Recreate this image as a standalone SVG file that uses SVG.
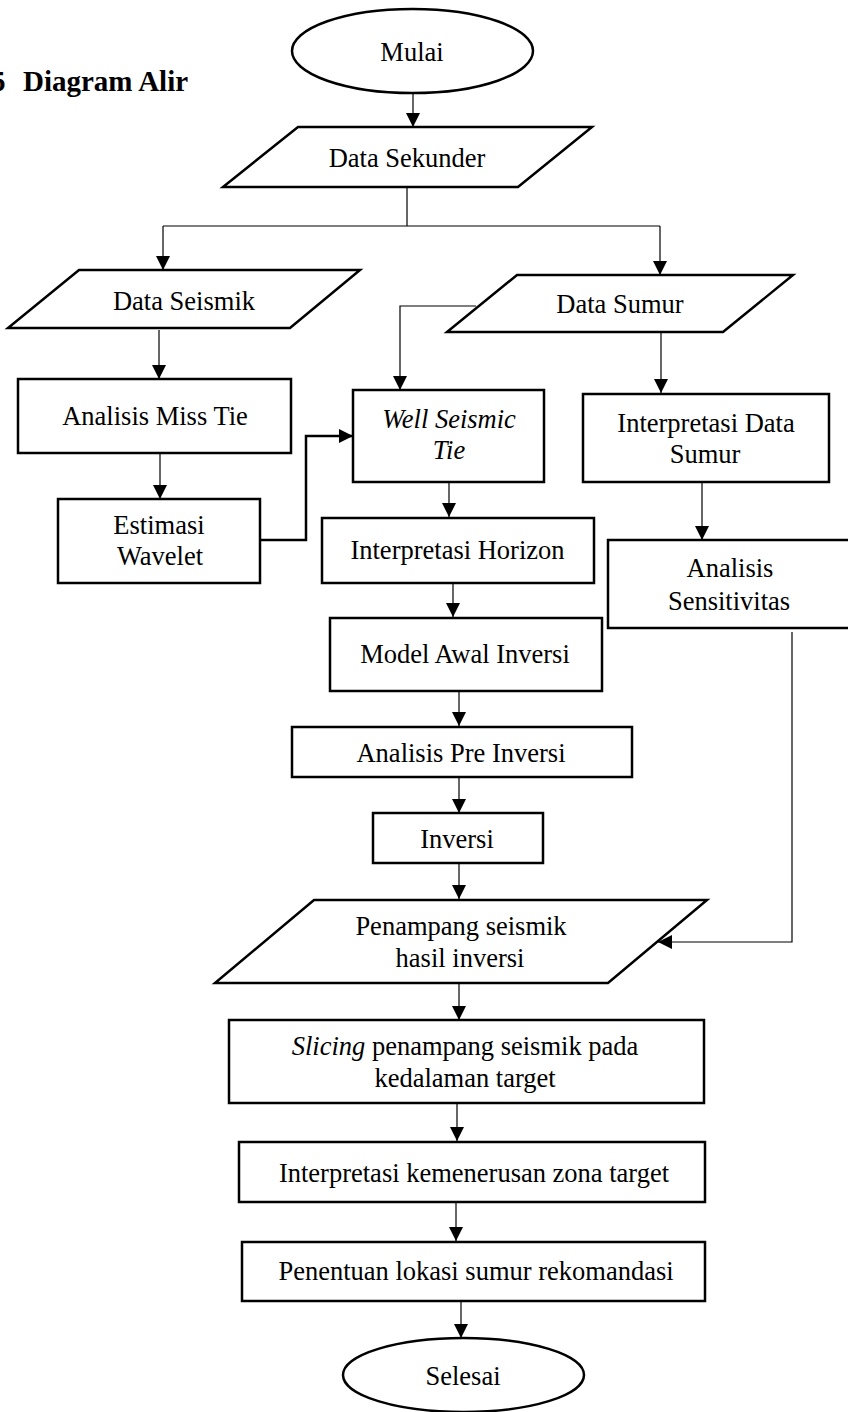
<svg xmlns="http://www.w3.org/2000/svg" width="848" height="1412" viewBox="0 0 848 1412">
<defs>
<style>
.n{fill:#fff;stroke:#000;stroke-width:2.5}
.t{font-family:"Liberation Serif","Times New Roman",serif;font-size:26.5px;fill:#000;text-anchor:middle}
.i{font-style:italic}
.c{fill:none;stroke:#000;stroke-width:1.2}
.ct{fill:none;stroke:#000;stroke-width:2.5}
.h{font-family:"Liberation Serif","Times New Roman",serif;font-size:29px;font-weight:bold;fill:#000}
</style>
<marker id="ah" markerUnits="userSpaceOnUse" markerWidth="14" markerHeight="14" refX="14" refY="7" orient="auto" viewBox="0 0 14 14">
<path d="M0,0 L14,7 L0,14 z" fill="#000"/>
</marker>
</defs>
<rect width="848" height="1412" fill="#fff"/>
<text class="h"><tspan x="-9" y="91">5</tspan><tspan x="23" y="91">Diagram Alir</tspan></text>

<g id="connectors">
<path class="c" d="M413,93 L413,127" marker-end="url(#ah)"/>
<path class="c" d="M407,187 L407,226 M163,226 L660,226"/>
<path class="c" d="M163,226 L163,270" marker-end="url(#ah)"/>
<path class="c" d="M660,226 L660,275" marker-end="url(#ah)"/>
<path class="c" d="M159,330 L159,379" marker-end="url(#ah)"/>
<path class="c" d="M476,306 L400,306 L400,390" marker-end="url(#ah)"/>
<path class="c" d="M661,332 L661,393" marker-end="url(#ah)"/>
<path class="c" d="M160,453 L160,499" marker-end="url(#ah)"/>
<path class="ct" d="M260,540 L306,540 L306,436 L353,436" marker-end="url(#ah)"/>
<path class="c" d="M449,482 L449,517" marker-end="url(#ah)"/>
<path class="c" d="M702,482 L702,540" marker-end="url(#ah)"/>
<path class="c" d="M453,583 L453,617" marker-end="url(#ah)"/>
<path class="c" d="M459,691 L459,726" marker-end="url(#ah)"/>
<path class="c" d="M459,777 L459,813" marker-end="url(#ah)"/>
<path class="c" d="M459,863 L459,899" marker-end="url(#ah)"/>
<path class="c" d="M792,632 L792,942 L658,942" marker-end="url(#ah)"/>
<path class="c" d="M459,983 L459,1020" marker-end="url(#ah)"/>
<path class="c" d="M457,1103 L457,1141" marker-end="url(#ah)"/>
<path class="c" d="M456,1202 L456,1241" marker-end="url(#ah)"/>
<path class="c" d="M461,1301 L461,1338" marker-end="url(#ah)"/>
</g>

<g id="mulai">
<ellipse class="n" cx="412.5" cy="51" rx="120.5" ry="42" stroke-width="2"/>
<text class="t" x="412" y="61">Mulai</text>
</g>
<g id="data-sekunder">
<polygon class="n" points="298,127 592,127 518,187 223,187"/>
<text class="t" x="407" y="167">Data Sekunder</text>
</g>
<g id="data-seismik">
<polygon class="n" points="79,270 360,270 290,328 8,328"/>
<text class="t" x="184" y="310">Data Seismik</text>
</g>
<g id="data-sumur">
<polygon class="n" points="517,275 793,275 723,332 447,332"/>
<text class="t" x="620" y="313">Data Sumur</text>
</g>
<g id="analisis-miss-tie">
<rect class="n" x="18" y="379" width="273" height="74"/>
<text class="t" x="155" y="425">Analisis Miss Tie</text>
</g>
<g id="estimasi-wavelet">
<rect class="n" x="58" y="499" width="202" height="84"/>
<text class="t" x="159" y="534">Estimasi</text>
<text class="t" x="160" y="565">Wavelet</text>
</g>
<g id="well-seismic-tie">
<rect class="n" x="353" y="390" width="191" height="92"/>
<text class="t i" x="449" y="428">Well Seismic</text>
<text class="t i" x="449" y="459">Tie</text>
</g>
<g id="interpretasi-data-sumur">
<rect class="n" x="583" y="394" width="246" height="88"/>
<text class="t" x="706" y="432">Interpretasi Data</text>
<text class="t" x="705" y="463">Sumur</text>
</g>
<g id="interpretasi-horizon">
<rect class="n" x="322" y="518" width="272" height="65"/>
<text class="t" x="457.5" y="559">Interpretasi Horizon</text>
</g>
<g id="analisis-sensitivitas">
<rect class="n" x="608" y="540" width="244" height="88"/>
<text class="t" x="730" y="577">Analisis</text>
<text class="t" x="729" y="610">Sensitivitas</text>
</g>
<g id="model-awal-inversi">
<rect class="n" x="330" y="618" width="272" height="73"/>
<text class="t" x="465" y="663">Model Awal Inversi</text>
</g>
<g id="analisis-pre-inversi">
<rect class="n" x="292" y="727" width="340" height="50"/>
<text class="t" x="461" y="762">Analisis Pre Inversi</text>
</g>
<g id="inversi">
<rect class="n" x="373" y="813" width="170" height="50"/>
<text class="t" x="457" y="848">Inversi</text>
</g>
<g id="penampang">
<polygon class="n" points="314,900 707,900 608,983 215,983"/>
<text class="t" x="461" y="935">Penampang seismik</text>
<text class="t" x="460" y="967">hasil inversi</text>
</g>
<g id="slicing">
<rect class="n" x="229" y="1020" width="475" height="83"/>
<text class="t" x="465" y="1055"><tspan class="i">Slicing</tspan> penampang seismik pada</text>
<text class="t" x="465" y="1087">kedalaman target</text>
</g>
<g id="interpretasi-kemenerusan">
<rect class="n" x="239" y="1142" width="466" height="60"/>
<text class="t" x="474" y="1182">Interpretasi kemenerusan zona target</text>
</g>
<g id="penentuan-lokasi">
<rect class="n" x="242" y="1242" width="463" height="59"/>
<text class="t" x="476" y="1280">Penentuan lokasi sumur rekomandasi</text>
</g>
<g id="selesai">
<ellipse class="n" cx="463.5" cy="1375" rx="120.5" ry="37" stroke-width="2"/>
<text class="t" x="463" y="1385">Selesai</text>
</g>
</svg>
